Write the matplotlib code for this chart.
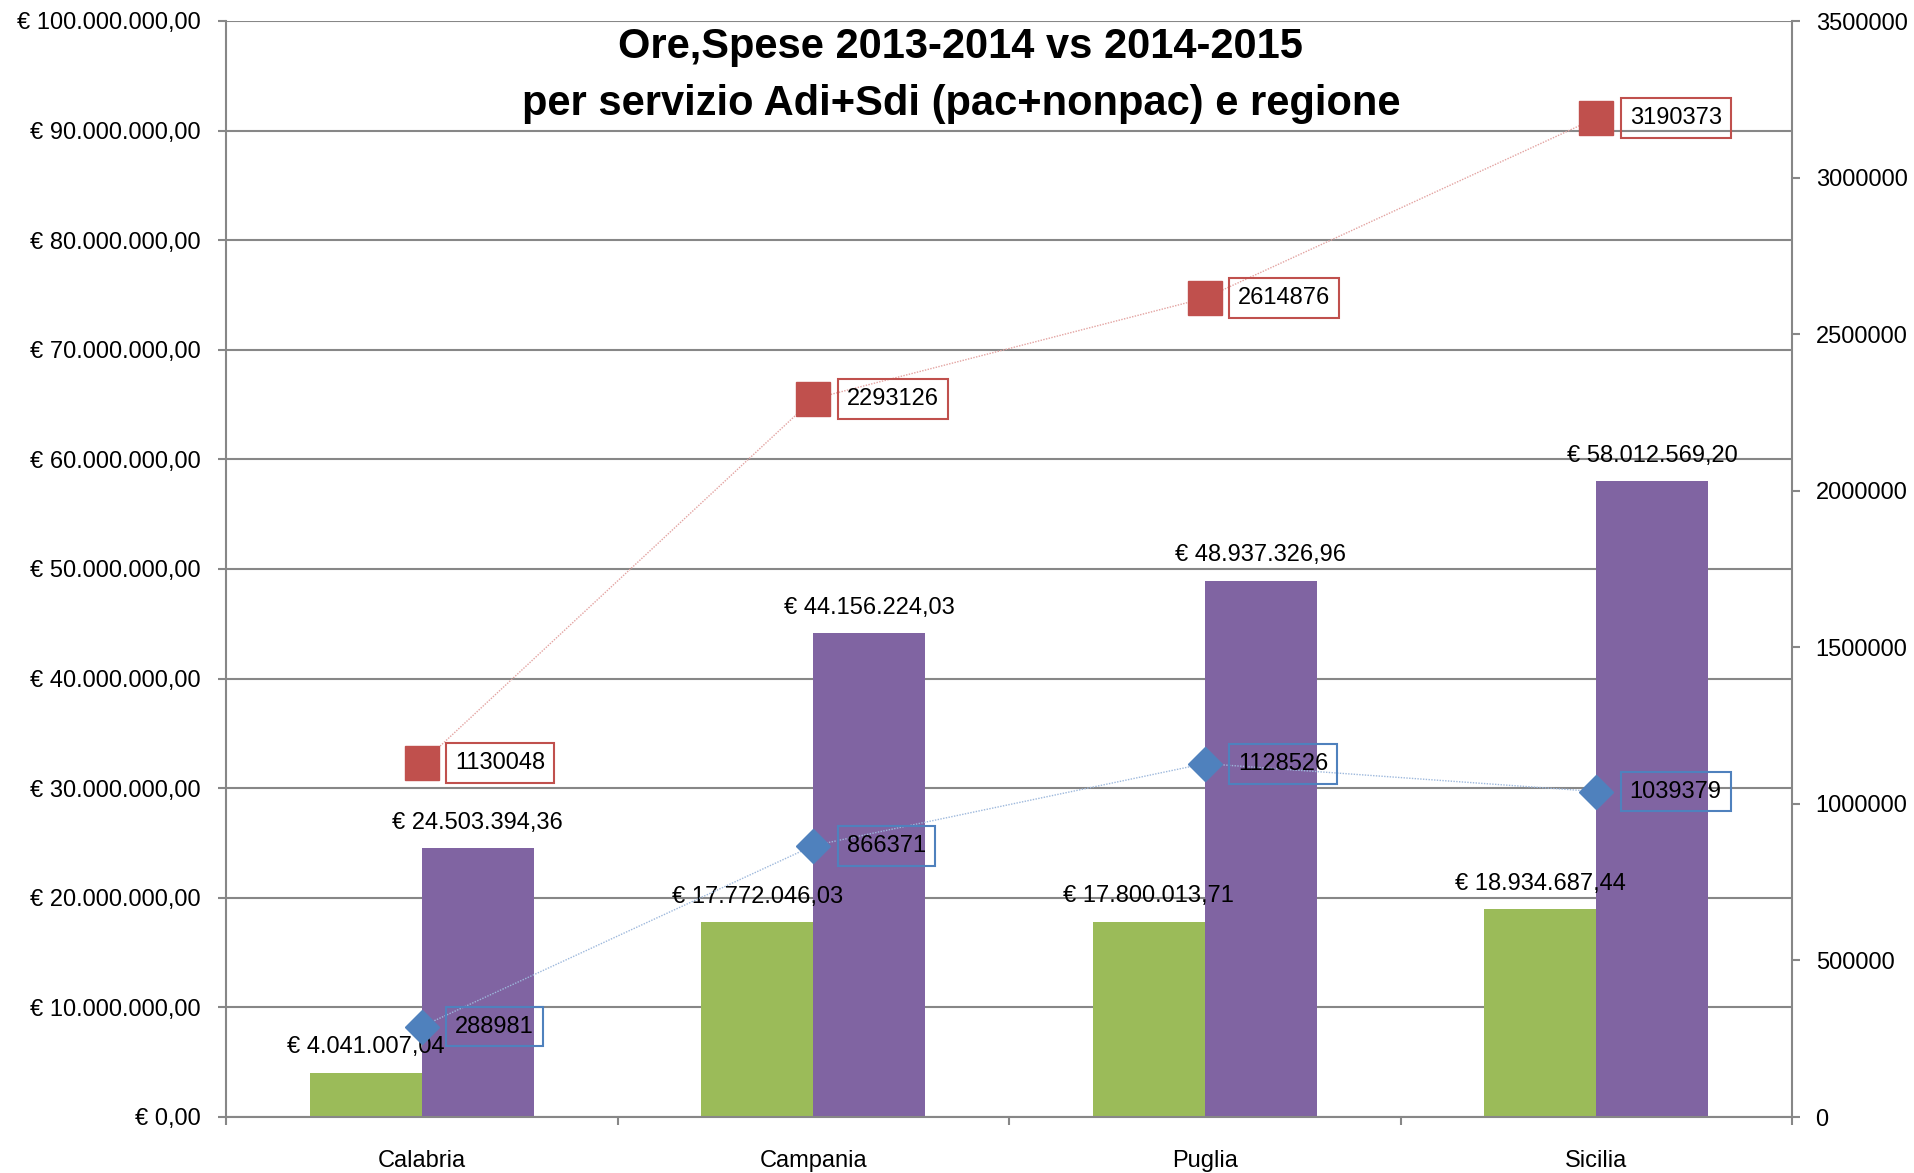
import matplotlib
matplotlib.use('Agg')
import matplotlib.pyplot as plt
import numpy as np
from matplotlib.ticker import FuncFormatter

regions = ['Calabria', 'Campania', 'Puglia', 'Sicilia']
spese_2013_2014 = [4041007.04, 17772046.03, 17800013.71, 18934687.44]
spese_2014_2015 = [24503394.36, 44156224.03, 48937326.96, 58012569.20]
ore_2013_2014 = [288981, 866371, 1128526, 1039379]
ore_2014_2015 = [1130048, 2293126, 2614876, 3190373]

GREEN = '#9BBB59'
PURPLE = '#8064A2'
RED = '#C0504D'
BLUE = '#4F81BD'
GRAY = '#878787'

plt.rcParams['font.family'] = ['Liberation Sans', 'DejaVu Sans']


def euro(v):
    s = f"{v:,.2f}".replace(',', 'X').replace('.', ',').replace('X', '.')
    return '€ ' + s


W, H = 1914, 1173
fig = plt.figure(figsize=(W / 100, H / 100), dpi=100)
ax = fig.add_axes([226 / W, 1 - 1117 / H, (1792 - 226) / W, (1117 - 21) / H])

x = np.arange(len(regions))
w = 0.286
b1 = ax.bar(x - w / 2, spese_2013_2014, w, color=GREEN, zorder=2)
b2 = ax.bar(x + w / 2, spese_2014_2015, w, color=PURPLE, zorder=2)

ax.set_xlim(-0.5, len(regions) - 0.5)
ax.set_ylim(0, 100e6)
ax.set_yticks(np.arange(0, 100e6 + 1, 10e6))
ax.yaxis.set_major_formatter(FuncFormatter(lambda v, p: euro(v)))
ax.grid(axis='y', color=GRAY, lw=1.5, zorder=0)
ax.set_axisbelow(True)

# category separators as major ticks, names as minor ticks
ax.set_xticks(np.arange(-0.5, len(regions), 1))
ax.set_xticklabels([])
ax.set_xticks(x, minor=True)
ax.set_xticklabels(regions, minor=True)
ax.tick_params(axis='x', which='minor', length=0, pad=24, labelsize=17)
ax.tick_params(axis='x', which='major', length=6, width=1.5, color=GRAY)
ax.tick_params(axis='y', length=5.5, width=1.5, color=GRAY, pad=13, labelsize=17)
for s in ['top', 'right']:
    ax.spines[s].set_visible(False)
for s in ['left', 'bottom']:
    ax.spines[s].set_color(GRAY)
    ax.spines[s].set_linewidth(1.5)

for bars, vals in [(b1, spese_2013_2014), (b2, spese_2014_2015)]:
    for r, v in zip(bars, vals):
        ax.annotate(euro(v), (r.get_x() + r.get_width() / 2, v), xytext=(0, 14),
                    textcoords='offset points', ha='center', va='baseline', fontsize=17)

# secondary axis: hours
ax2 = ax.twinx()
ax2.set_ylim(0, 3.5e6)
ax2.set_yticks(np.arange(0, 3.5e6 + 1, 5e5))
ax2.yaxis.set_major_formatter(FuncFormatter(lambda v, p: f"{int(v)}"))
ax2.tick_params(axis='y', length=6, width=1.5, color=GRAY, pad=11, labelsize=17)
for s in ['top', 'left', 'bottom']:
    ax2.spines[s].set_visible(False)
ax2.spines['right'].set_color(GRAY)
ax2.spines['right'].set_linewidth(1.5)

ax2.plot(x, ore_2014_2015, color='#E3A3A1', lw=1, ls=(0, (1, 1)), zorder=2)
ax2.plot(x, ore_2014_2015, ls='none', marker='s', ms=24, color=RED, zorder=3)
ax2.plot(x, ore_2013_2014, color='#9DB8DC', lw=1, ls=(0, (1, 1)), zorder=2)
ax2.plot(x, ore_2013_2014, ls='none', marker='D', ms=17, color=BLUE, zorder=3)

for vals, col in [(ore_2014_2015, RED), (ore_2013_2014, BLUE)]:
    for xi, v in zip(x, vals):
        ax2.annotate(str(v), (xi, v), xytext=(24, 0), textcoords='offset points',
                     ha='left', va='center', fontsize=17, zorder=4,
                     bbox=dict(boxstyle='square,pad=0.38', fc='none', ec=col, lw=1.5))

fig.text(0.502, 1 - 58 / H, 'Ore,Spese 2013-2014 vs 2014-2015', ha='center', va='baseline',
         fontsize=30, fontweight='bold')
fig.text(0.502, 1 - 115 / H, 'per servizio Adi+Sdi (pac+nonpac) e regione', ha='center',
         va='baseline', fontsize=30, fontweight='bold')

fig.savefig('out.png', dpi=100)
